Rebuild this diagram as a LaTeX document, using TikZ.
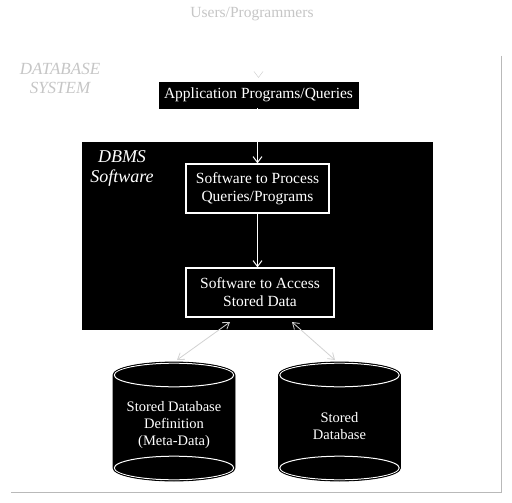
\documentclass[tikz,border=0pt]{standalone}
\usepackage{fontspec}
\setmainfont{Liberation Serif}
\usetikzlibrary{arrows.meta}
\begin{document}
\begin{tikzpicture}[x=1pt,y=-1pt,
  faint/.style={text=gray!45, font=\fontsize{15.5}{17}\selectfont},
  blackbox/.style={draw=black, fill=black, text=white, inner sep=0pt, align=center, font=\fontsize{15.5}{17}\selectfont},
  whitebox/.style={draw=white, line width=1.2pt, fill=black, text=white, inner sep=0pt, align=center, font=\fontsize{15.5}{18}\selectfont},
  cyltext/.style={text=white, align=center, font=\fontsize{14.5}{17}\selectfont},
  warrow/.style={white, line width=1pt, -{Straight Barb[length=6pt,width=9pt]}},
  garrow/.style={gray!35, line width=0.8pt, {Straight Barb[length=6pt,width=8pt]}-{Straight Barb[length=6pt,width=8pt]}},
  shadowline/.style={gray!55, line width=1.3pt}
]
\useasboundingbox (0,0) rectangle (512,503);
\fill[white] (0,0) rectangle (512,503);
% database system frame (only its shadow shows)
\draw[shadowline] (501.5,56) -- (501.5,492.5) -- (11,492.5);
\node[faint, font=\fontsize{17}{19}\itshape, align=center] (dbsys) at (60,78) {DATABASE\\SYSTEM};
\node[faint] (users) at (252,14) {Users/Programmers};
\node[blackbox, minimum width=199pt, minimum height=26pt] (app) at (258.5,95) {Application Programs/Queries};
\node[blackbox, minimum width=350pt, minimum height=187pt] (dbms) at (257,235.5) {};
\node[text=white, font=\fontsize{18}{20}\itshape, align=center] (dbmslabel) at (122,168) {DBMS\\Software};
\node[whitebox, minimum width=143pt, minimum height=49pt] (proc) at (257.5,188.5) {Software to Process\\Queries/Programs};
\node[whitebox, minimum width=148pt, minimum height=49pt] (acc) at (260,292.5) {Software to Access\\Stored Data};
% cylinders
\foreach \n/\cx in {meta/174, data/339.5}{
  \fill[black] (\cx-61,468) -- (\cx-61,375) arc[start angle=180, end angle=360, x radius=61, y radius=13] -- (\cx+61,468) arc[start angle=0, end angle=180, x radius=61, y radius=13] -- cycle;
  \draw[white, line width=1pt] (\cx,375) ellipse [x radius=59.8, y radius=11.8];
  \draw[white, line width=1pt] (\cx,468) ellipse [x radius=59.8, y radius=11.8];
  \draw[black, line width=0.8pt] (\cx-61,468) -- (\cx-61,375) arc[start angle=180, end angle=360, x radius=61, y radius=13] -- (\cx+61,468) arc[start angle=0, end angle=180, x radius=61, y radius=13] -- cycle;
}
\node[cyltext] (meta) at (174,425) {Stored Database\\Definition\\(Meta-Data)};
\node[cyltext] (data) at (339.5,426) {Stored\\Database};
\coordinate (metatop) at (177,360);
\coordinate (datatop) at (335,360);
% connectors
\draw[white, shorten >=4pt, -{Straight Barb[length=6pt,width=9pt,color=gray!40]}] (app.north |- users.south) -- (app.north);
\draw[warrow] (app.south -| proc.north) -- (proc.north);
\draw[warrow] (proc.south) -- (proc.south |- acc.north);
\draw[garrow] (metatop) -- (230,322);
\draw[garrow] (datatop) -- (292,322);
\end{tikzpicture}
\end{document}
